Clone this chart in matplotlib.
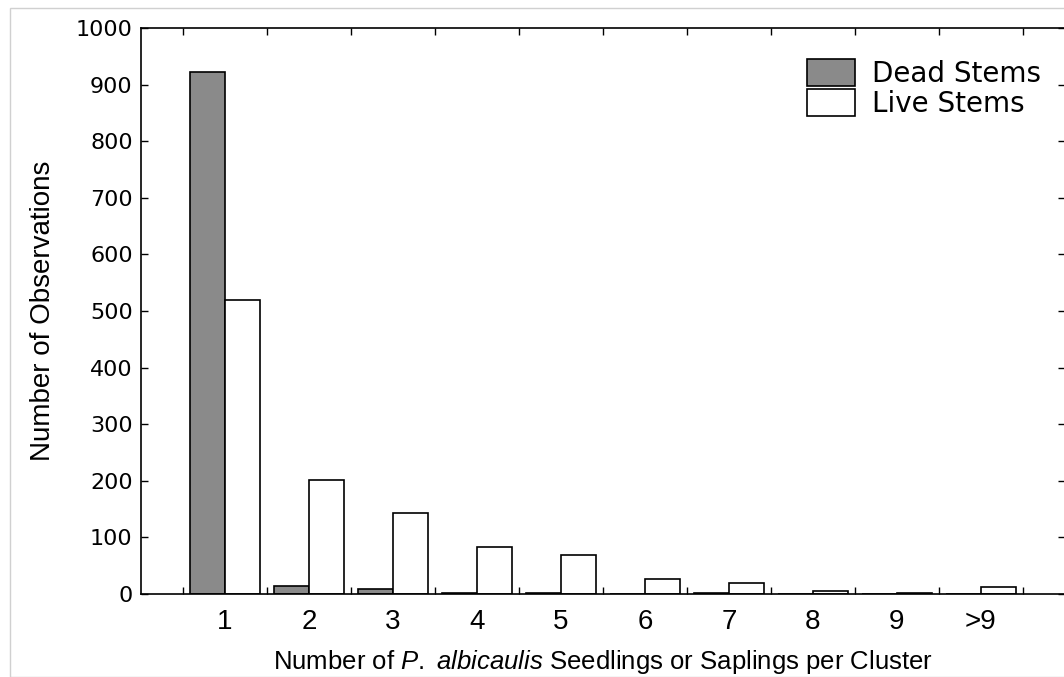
import matplotlib
matplotlib.use("Agg")
import matplotlib.pyplot as plt
from matplotlib.patches import Rectangle
import numpy as np

categories = ["1", "2", "3", "4", "5", "6", "7", "8", "9", ">9"]
dead_stems = [922, 15, 9, 2, 2, 0, 2, 0, 0, 0]
live_stems = [519, 202, 143, 83, 69, 27, 19, 6, 2, 12]

plt.rcParams['font.family'] = ['Liberation Sans', 'DejaVu Sans']
plt.rcParams['mathtext.fontset'] = 'custom'
plt.rcParams['mathtext.rm'] = 'Liberation Sans'
plt.rcParams['mathtext.it'] = 'Liberation Sans:italic'

fig = plt.figure(figsize=(10.64, 6.77), dpi=100)
ax = fig.add_axes([141/1064, 83/677, 924/1064, 566/677])

x = np.arange(1, len(categories) + 1)
w = 0.417
ax.bar(x - w/2, dead_stems, width=w, color='#8a8a8a', edgecolor='black', linewidth=1.2, label='Dead Stems')
ax.bar(x + w/2, live_stems, width=w, color='white', edgecolor='black', linewidth=1.2, label='Live Stems')

ax.set_xlim(0, 11)
ax.set_ylim(0, 1000)
ax.set_yticks(np.arange(0, 1001, 100))
ax.set_xticks(x)
ax.set_xticklabels(categories)
ax.set_xticks(np.arange(0.5, 11, 1), minor=True)
ax.tick_params(axis='x', which='major', length=0, labelsize=20, pad=11)
ax.tick_params(axis='x', which='minor', length=5, direction='in', top=True, bottom=True, width=1)
ax.tick_params(axis='y', which='major', length=5, direction='in', left=True, right=True,
               labelsize=16, width=1, pad=6)
for lab in ax.get_yticklabels():
    lab.set_fontfamily('DejaVu Sans')
for s in ax.spines.values():
    s.set_linewidth(1.2)

ax.set_ylabel('Number of Observations', fontsize=20, labelpad=14)
ax.set_xlabel('Number of $P.$ $albicaulis$ Seedlings or Saplings per Cluster', fontsize=18.5, labelpad=9)

leg = ax.legend(loc='upper left', bbox_to_anchor=((807-141)/924, 1 - (59-28)/566),
                frameon=False, prop={'family': 'DejaVu Sans', 'size': 20},
                handlelength=1.73, handleheight=1.1,
                handletextpad=0.6, labelspacing=0.06, borderaxespad=0, borderpad=0)

fig.patches.append(Rectangle((10/1064, 0), 1.0, 1 - 8/677, transform=fig.transFigure,
                             fill=False, edgecolor='#d0d0d0', linewidth=1))

fig.savefig('out.png', dpi=100)
